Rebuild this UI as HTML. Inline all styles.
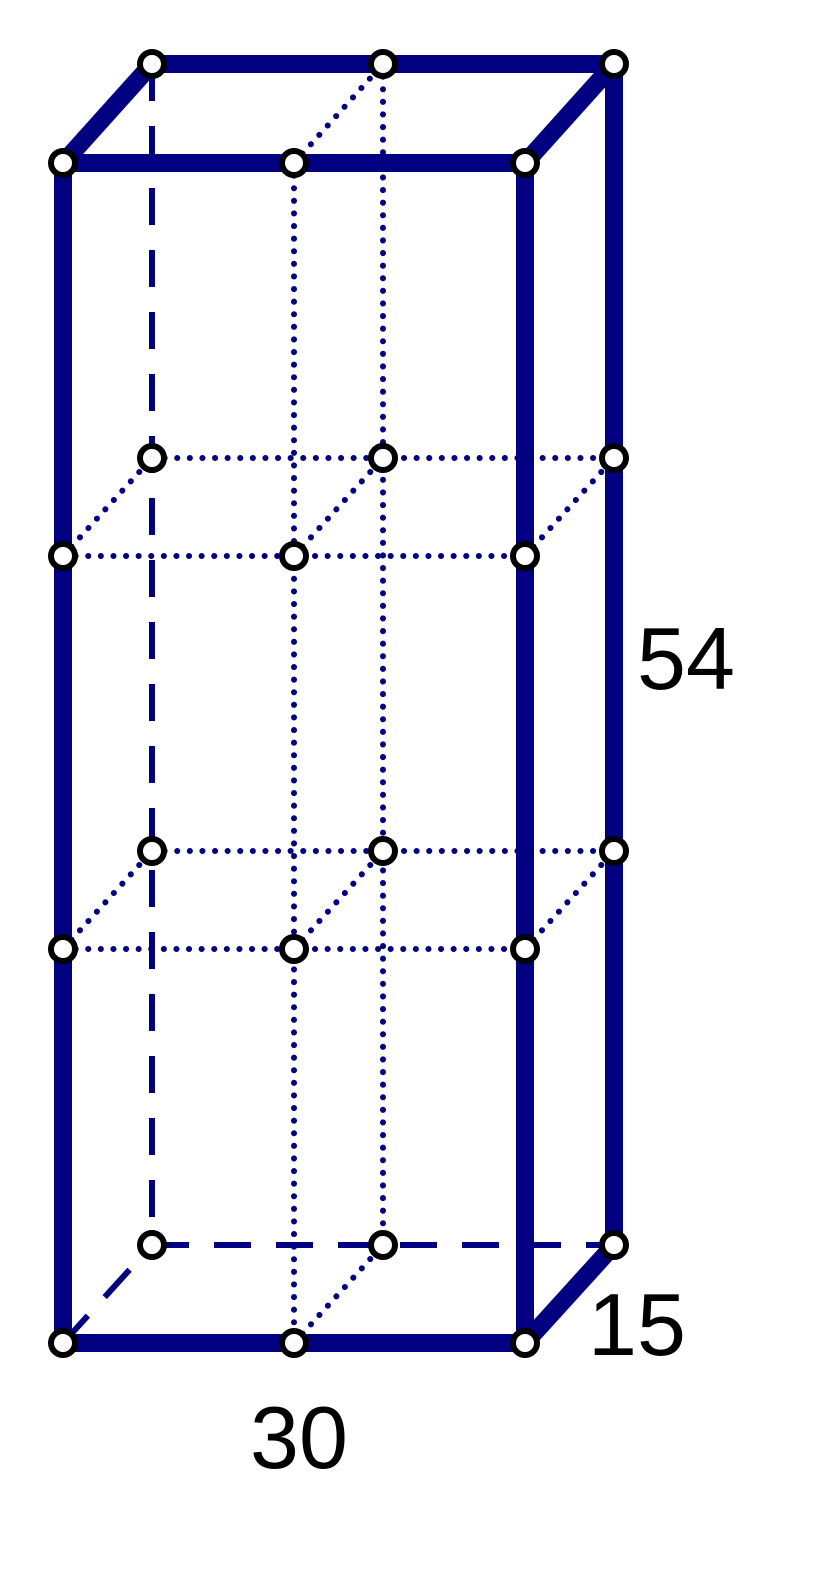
<!DOCTYPE html>
<html><head><style>body{margin:0;background:#fff}</style></head><body>
<svg width="832" height="1570" xmlns="http://www.w3.org/2000/svg">
<g stroke="#000080" fill="none">
<g stroke-width="6" stroke-dasharray="37,25">
<line x1="152" y1="64" x2="152" y2="1245"/>
<line x1="152" y1="1245" x2="614" y2="1245"/>
<line x1="63" y1="1343" x2="152" y2="1245"/>
</g>
<g stroke-width="6" stroke-dasharray="0.1,12.5" stroke-linecap="round">
<line x1="294" y1="163" x2="294" y2="1343"/>
<line x1="383" y1="64" x2="383" y2="1245"/>
<line x1="294" y1="163" x2="383" y2="64"/>
<line x1="294" y1="1343" x2="383" y2="1245"/>
<line x1="63" y1="556" x2="525" y2="556"/>
<line x1="152" y1="458" x2="614" y2="458"/>
<line x1="63" y1="949" x2="525" y2="949"/>
<line x1="152" y1="851" x2="614" y2="851"/>
<line x1="63" y1="556" x2="152" y2="458"/>
<line x1="294" y1="556" x2="383" y2="458"/>
<line x1="525" y1="556" x2="614" y2="458"/>
<line x1="63" y1="949" x2="152" y2="851"/>
<line x1="294" y1="949" x2="383" y2="851"/>
<line x1="525" y1="949" x2="614" y2="851"/>
</g>
<g stroke-width="18">
<line x1="63" y1="163" x2="525" y2="163"/>
<line x1="63" y1="1343" x2="525" y2="1343"/>
<line x1="63" y1="163" x2="63" y2="1343"/>
<line x1="525" y1="163" x2="525" y2="1343"/>
<line x1="152" y1="64" x2="614" y2="64"/>
<line x1="614" y1="64" x2="614" y2="1245"/>
<line x1="63" y1="163" x2="152" y2="64"/>
<line x1="525" y1="163" x2="614" y2="64"/>
<line x1="525" y1="1343" x2="614" y2="1245"/>
</g>
</g>
<g fill="#fff" stroke="#000" stroke-width="6">
<circle cx="63" cy="163" r="12"/><circle cx="294" cy="163" r="12"/><circle cx="525" cy="163" r="12"/>
<circle cx="152" cy="64" r="12"/><circle cx="383" cy="64" r="12"/><circle cx="614" cy="64" r="12"/>
<circle cx="63" cy="556" r="12"/><circle cx="294" cy="556" r="12"/><circle cx="525" cy="556" r="12"/>
<circle cx="152" cy="458" r="12"/><circle cx="383" cy="458" r="12"/><circle cx="614" cy="458" r="12"/>
<circle cx="63" cy="949" r="12"/><circle cx="294" cy="949" r="12"/><circle cx="525" cy="949" r="12"/>
<circle cx="152" cy="851" r="12"/><circle cx="383" cy="851" r="12"/><circle cx="614" cy="851" r="12"/>
<circle cx="63" cy="1343" r="12"/><circle cx="294" cy="1343" r="12"/><circle cx="525" cy="1343" r="12"/>
<circle cx="152" cy="1245" r="12"/><circle cx="383" cy="1245" r="12"/><circle cx="614" cy="1245" r="12"/>
</g>
<g font-family="Liberation Sans, sans-serif" font-size="88" fill="#000">
<text x="637" y="689">54</text>
<text x="588" y="1355">15</text>
<text x="250" y="1468">30</text>
</g>
</svg>
</body></html>
